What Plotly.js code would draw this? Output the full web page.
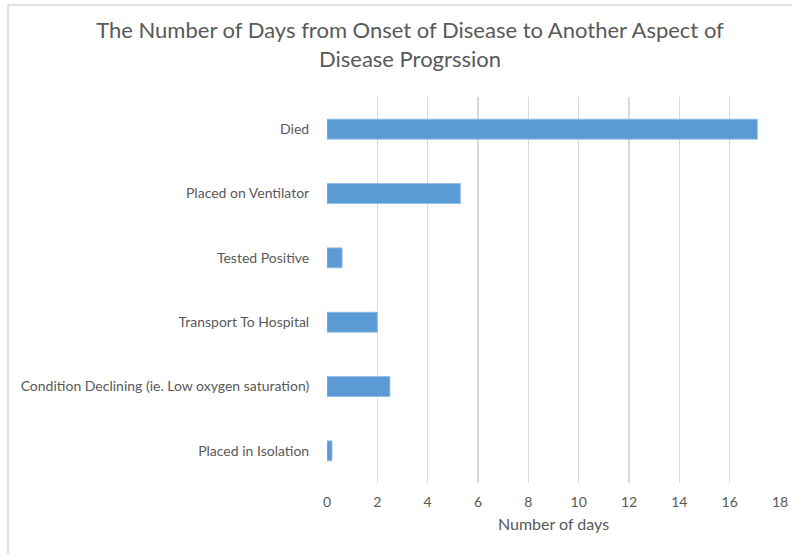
<!DOCTYPE html>
<html>
<head>
<meta charset="utf-8">
<script src="https://cdn.plot.ly/plotly-3.0.1.min.js"></script>
<style>html,body{margin:0;padding:0;background:#fff;}#chart{width:792px;height:554px;}</style>
</head>
<body>
<div id="chart"></div>
<script>
const categories = [
  "Placed in Isolation",
  "Condition Declining (ie. Low oxygen saturation)",
  "Transport To Hospital",
  "Tested Positive",
  "Placed on Ventilator",
  "Died"
];
const days = [0.2, 2.5, 2.0, 0.6, 5.3, 17.1];
const tickVals = [0, 2, 4, 6, 8, 10, 12, 14, 16, 18];

const L = 327, R = 780, T = 97, B = 483;
const W = 792, H = 554;
const px = x => (x - L) / (R - L);
const py = y => (B - y) / (B - T);

const font = "Lato, 'Open Sans', sans-serif";

Plotly.newPlot('chart', [{
  type: 'bar',
  orientation: 'h',
  y: categories,
  x: days,
  marker: {color: '#5b9bd5', line: {color: '#8fbbe3', width: 0.8}},
  hoverinfo: 'x+y'
}], {
  width: W, height: H,
  margin: {l: L, r: W - R, t: T, b: H - B, pad: 0},
  paper_bgcolor: '#ffffff',
  plot_bgcolor: '#ffffff',
  bargap: 0.69,
  showlegend: false,
  font: {family: font, color: '#595959', size: 14},
  title: {
    text: 'The Number of Days from Onset of Disease to Another Aspect of<br>Disease Progrssion',
    font: {family: font, size: 22, color: '#595959', lineposition: 'none'},
    x: 410 / W, xref: 'container', xanchor: 'center',
    y: 1 - 38 / H, yanchor: 'middle', yref: 'container'
  },
  xaxis: {
    range: [0, 18],
    tickvals: tickVals,
    ticktext: tickVals.map(String),
    showgrid: true, gridcolor: '#d9d9d9', gridwidth: 1.5,
    zeroline: false, showline: false,
    ticks: 'outside', ticklen: 6, tickcolor: 'rgba(0,0,0,0)',
    tickfont: {family: font, size: 14, color: '#595959'},
    title: {text: 'Number of days', font: {family: font, size: 16, color: '#595959'}, standoff: 10},
    fixedrange: true
  },
  yaxis: {
    type: 'category',
    showgrid: false, zeroline: false, showline: false,
    ticks: 'outside', ticklen: 14, tickcolor: 'rgba(0,0,0,0)',
    tickfont: {family: font, size: 14, color: '#595959'},
    fixedrange: true
  },
  shapes: [
    {type: 'line', xref: 'paper', yref: 'paper', x0: px(8), x1: px(8), y0: py(5), y1: py(554), line: {color: '#d9d9d9', width: 1.5}},
    {type: 'line', xref: 'paper', yref: 'paper', x0: px(8), x1: px(792), y0: py(5), y1: py(5), line: {color: '#d9d9d9', width: 1.5}}
  ]
}, {displayModeBar: false, staticPlot: true});
</script>
</body>
</html>
